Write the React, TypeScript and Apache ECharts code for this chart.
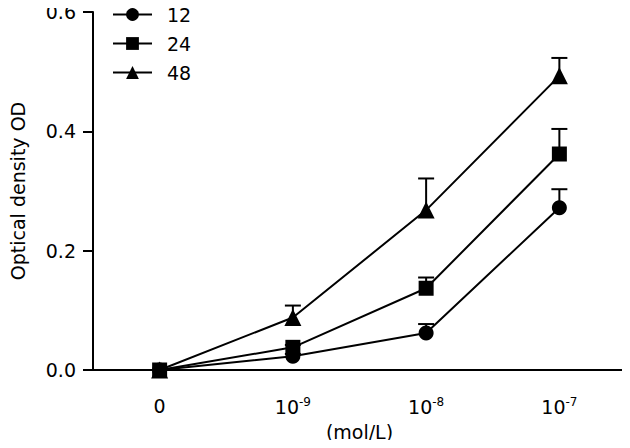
import React, { useEffect, useRef } from "react";
import * as echarts from "echarts";

const categories = ["0", "1e-9", "1e-8", "1e-7"];
const tickExponents = ["", "-9", "-8", "-7"];
const seriesNames = ["12", "24", "48"];
const symbols = ["circle", "rect", "triangle"];
const symbolSizes = [15, 15, 17];
const values12 = [0.0, 0.023, 0.062, 0.272];
const values24 = [0.0, 0.038, 0.137, 0.362];
const values48 = [0.0, 0.088, 0.268, 0.493];
const err12 = [0.0, 0.004, 0.015, 0.031];
const err24 = [0.0, 0.004, 0.018, 0.042];
const err48 = [0.0, 0.02, 0.053, 0.03];

const FONT = "'DejaVu Sans', sans-serif";
const FS = 19;

export default function App() {
  const ref = useRef<HTMLDivElement>(null);
  useEffect(() => {
    if (!ref.current) return;
    const chart = echarts.init(ref.current, null, { renderer: "svg" });
    const allValues = [values12, values24, values48];
    const allErr = [err12, err24, err48];

    const lineSeries = seriesNames.map((name, i) => ({
      name,
      type: "line",
      data: allValues[i],
      symbol: symbols[i],
      symbolSize: symbolSizes[i],
      itemStyle: { color: "#000" },
      lineStyle: { color: "#000", width: 2 },
      z: 3,
    }));

    const errSeries = seriesNames.map((name, i) => ({
      type: "custom",
      name: "err" + name,
      data: allValues[i].map((v, j) => [j, v, v + allErr[i][j]]),
      z: 2,
      renderItem: (params: any, api: any) => {
        const x = api.value(0);
        const lo = api.coord([x, api.value(1)]);
        const hi = api.coord([x, api.value(2)]);
        if (Math.abs(lo[1] - hi[1]) < 1) return { type: "group", children: [] };
        const half = 8;
        return {
          type: "group",
          children: [
            {
              type: "line",
              shape: { x1: lo[0], y1: lo[1], x2: hi[0], y2: hi[1] },
              style: { stroke: "#000", lineWidth: 2 },
            },
            {
              type: "line",
              shape: { x1: hi[0] - half, y1: hi[1], x2: hi[0] + half, y2: hi[1] },
              style: { stroke: "#000", lineWidth: 2 },
            },
          ],
        };
      },
    }));

    chart.setOption({
      animation: false,
      textStyle: { fontFamily: FONT },
      grid: { left: 86, right: 4, top: 12, bottom: 78 },
      legend: {
        data: seriesNames,
        orient: "vertical",
        left: 107,
        top: 0,
        padding: 5,
        itemGap: 10,
        itemWidth: 39,
        itemHeight: 16,
        textStyle: { fontSize: FS, color: "#000", fontFamily: FONT, padding: [0, 0, 0, 10] },
      },
      xAxis: {
        type: "category",
        data: categories,
        boundaryGap: true,
        axisLine: { lineStyle: { color: "#000", width: 2 } },
        axisTick: { alignWithLabel: true, length: 9, lineStyle: { color: "#000", width: 2 } },
        axisLabel: {
          margin: 26,
          formatter: (_v: string, idx: number) =>
            tickExponents[idx] ? `{b|10}{s|${tickExponents[idx]}}` : "{b|0}",
          rich: {
            b: { fontSize: FS, color: "#000", fontFamily: FONT },
            s: { fontSize: 12, color: "#000", fontFamily: FONT, verticalAlign: "top", padding: [0, 0, 10, 0] },
          },
        },
        name: "(mol/L)",
        nameLocation: "middle",
        nameGap: 52,
        nameTextStyle: { fontSize: FS, color: "#000", fontFamily: FONT },
      },
      yAxis: {
        type: "value",
        min: 0,
        max: 0.6,
        interval: 0.2,
        splitLine: { show: false },
        axisLine: { show: true, lineStyle: { color: "#000", width: 2 } },
        axisTick: { show: true, length: 10, lineStyle: { color: "#000", width: 2 } },
        axisLabel: {
          margin: 17,
          fontSize: FS,
          color: "#000",
          fontFamily: FONT,
          formatter: (v: number) => v.toFixed(1),
        },
        name: "Optical density OD",
        nameLocation: "middle",
        nameGap: 66,
        nameTextStyle: { fontSize: FS, color: "#000", fontFamily: FONT },
      },
      series: [...errSeries, ...lineSeries],
    });
    return () => chart.dispose();
  }, []);
  return <div ref={ref} style={{ width: 630, height: 448, margin: -8 }} />;
}
